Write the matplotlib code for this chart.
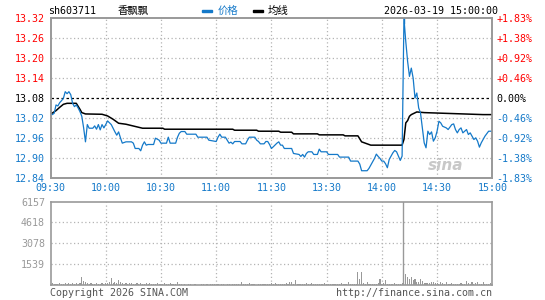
import matplotlib
matplotlib.use("Agg")
import matplotlib.pyplot as plt
from matplotlib.patches import Rectangle

# minute index from 09:30 (0) to 15:00 (240), lunch break skipped
price_min = [0, 1, 2, 3, 4, 5, 6, 7, 8, 9, 10, 11, 12, 13, 14, 15, 16, 17, 18, 19,
             20, 21, 23, 24, 25, 26, 27, 28, 29, 30, 31, 33, 34, 35, 36, 37, 38, 39, 41, 44,
             45, 46, 48, 49, 50, 51, 52, 53, 56, 57, 59, 60, 63, 64, 65, 68, 69, 70, 71, 73,
             74, 79, 80, 85, 86, 90, 91, 92, 93, 95, 96, 97, 98, 99, 100, 103, 104, 106, 107, 108,
             111, 112, 113, 114, 116, 117, 118, 119, 120, 121, 123, 124, 125, 126, 127, 131, 132, 135, 136, 137,
             138, 139, 140, 142, 143, 145, 146, 147, 150, 151, 156, 157, 162, 163, 167, 168, 169, 172, 173, 175,
             176, 177, 178, 179, 180, 181, 182, 183, 184, 185, 186, 187, 188, 189, 190, 191, 192, 193, 194, 195,
             196, 197, 198, 199, 200, 201, 202, 203, 204, 205, 206, 207, 208, 209, 210, 211, 212, 213, 215, 216,
             218, 219, 220, 221, 222, 223, 224, 226, 227, 228, 229, 230, 231, 232, 233, 234, 236, 238, 240]
price = [13.031, 13.030, 13.034, 13.059, 13.056, 13.066, 13.072, 13.079, 13.099, 13.093,
         13.099, 13.090, 13.064, 13.054, 13.059, 13.050, 13.039, 13.025, 12.990, 12.948,
         13.000, 12.989, 12.989, 12.996, 12.986, 13.000, 12.984, 13.000, 12.990, 13.000,
         13.011, 13.000, 12.989, 12.978, 12.968, 12.978, 12.960, 12.944, 12.948, 12.948,
         12.944, 12.928, 12.928, 12.921, 12.938, 12.948, 12.938, 12.940, 12.940, 12.959,
         12.953, 12.944, 12.944, 12.962, 12.944, 12.944, 12.962, 12.974, 12.979, 12.979,
         12.971, 12.971, 12.962, 12.962, 12.953, 12.949, 12.962, 12.971, 12.962, 12.962,
         12.953, 12.944, 12.947, 12.942, 12.949, 12.949, 12.942, 12.942, 12.953, 12.962,
         12.962, 12.953, 12.949, 12.942, 12.942, 12.949, 12.949, 12.940, 12.928, 12.933,
         12.944, 12.948, 12.938, 12.938, 12.928, 12.928, 12.913, 12.910, 12.904, 12.910,
         12.902, 12.913, 12.918, 12.918, 12.910, 12.910, 12.926, 12.918, 12.918, 12.910,
         12.910, 12.902, 12.902, 12.890, 12.890, 12.881, 12.861, 12.861, 12.868, 12.888,
         12.898, 12.911, 12.904, 12.898, 12.890, 12.890, 12.882, 12.870, 12.895, 12.905,
         12.915, 12.922, 12.918, 12.905, 12.892, 12.905, 13.320, 13.250, 13.190, 13.145,
         13.170, 13.140, 13.080, 13.095, 13.050, 13.035, 12.990, 12.945, 12.930, 12.980,
         12.970, 12.978, 12.950, 12.960, 12.980, 13.010, 13.005, 12.995, 12.990, 12.985,
         13.000, 13.002, 12.985, 12.975, 12.985, 12.990, 12.975, 12.985, 12.970, 12.975,
         12.965, 12.955, 12.960, 12.950, 12.932, 12.945, 12.965, 12.980, 12.980]

avg_min = [0, 3, 5, 7, 9, 14, 16, 17, 19, 28, 31, 34, 37, 41, 50, 57, 61, 62, 99, 100,
           112, 113, 124, 125, 131, 132, 145, 146, 159, 160, 167, 169, 172, 174, 191, 192, 193, 194, 195, 196,
           199, 203, 219, 235, 240]
avg = [13.031, 13.042, 13.052, 13.061, 13.064, 13.064, 13.046, 13.036, 13.032, 13.031,
       13.026, 13.016, 13.004, 13.001, 12.989, 12.989, 12.989, 12.986, 12.986, 12.983,
       12.983, 12.980, 12.980, 12.977, 12.977, 12.972, 12.972, 12.969, 12.969, 12.966,
       12.966, 12.948, 12.942, 12.938, 12.938, 12.955, 13.005, 13.012, 13.025, 13.030,
       13.038, 13.036, 13.033, 13.030, 13.030]

volume = [300, 120, 90, 110, 80, 130, 100, 90, 150, 110, 120, 90, 180, 100, 140, 80, 120, 560, 300, 200,
          150, 110, 130, 90, 100, 120, 80, 110, 130, 100,
          140, 130, 250, 540, 180, 240, 120, 390, 200, 130, 110, 160, 100, 120, 140, 90, 100, 130, 80, 160,
          110, 90, 120, 100, 140, 80, 110, 90, 120, 100,
          110, 90, 130, 80, 100, 120, 90, 80, 110, 200, 100, 60, 0, 80, 0, 90, 60, 0, 70, 90,
          0, 0, 80, 60, 0, 100, 0, 70, 90, 60,
          80, 60, 0, 90, 70, 0, 60, 80, 0, 70, 90, 60, 80, 0, 200, 70, 90, 60, 180, 80,
          60, 90, 0, 70, 100, 80, 60, 90, 110, 80,
          120, 90, 170, 100, 80, 110, 90, 80, 120, 100, 240, 230, 90, 370, 100, 80, 110, 90, 100, 120,
          90, 80, 120, 100, 90, 110, 80, 100, 90, 120,
          100, 80, 90, 110, 90, 80, 100, 90, 120, 80, 90, 100, 240, 110, 90, 100, 80, 980, 460, 980,
          150, 110, 220, 100, 80, 90, 110, 100, 120, 415,
          110, 130, 370, 110, 90, 100, 80, 120, 90, 100, 110, 140, 2680, 800, 560, 440, 585, 366, 440, 220,
          220, 440, 290, 120, 170, 120, 170, 220, 244, 170,
          120, 100, 220, 170, 90, 220, 100, 80, 120, 90, 110, 100, 80, 120, 90, 110, 320, 170, 100, 240,
          90, 170, 220, 110, 100, 220, 90, 80, 100, 120, 60]

pre_close = 13.08
price_ticks = [12.84, 12.90, 12.96, 13.02, 13.08, 13.14, 13.20, 13.26, 13.32]
pct_labels = ["-1.83%", "-1.38%", "-0.92%", "-0.46%", "0.00%", "+0.46%", "+0.92%", "+1.38%", "+1.83%"]
time_pos = [0, 30, 60, 90, 120, 150, 180, 210, 240]
time_labels = ["09:30", "10:00", "10:30", "11:00", "11:30", "13:30", "14:00", "14:30", "15:00"]
vol_ticks = [1539, 3078, 4618, 6157]
cursor_min = 192

W, H = 545, 300
BLUE = "#1479c9"
RED = "#ff0000"
GRID = "#b4b4b4"
BORDER = "#999999"
MONO = "DejaVu Sans Mono"
CJK = ["Noto Sans CJK SC", "DejaVu Sans"]


def fx(x):
    return x / W


def fy(y):
    return 1 - y / H


fig = plt.figure(figsize=(W / 100, H / 100), dpi=100)

ax = fig.add_axes([fx(50.5), fy(177.7), (492.3 - 50.5) / W, (177.7 - 18.3) / H])
axv = fig.add_axes([fx(50.5), fy(285), (492.3 - 50.5) / W, (285 - 201.5) / H])

# price panel
ax.set_xlim(0, 240)
ax.set_ylim(12.84, 13.32)
for t in time_pos[1:-1]:
    ax.axvline(t, color=GRID, lw=0.9, ls=(0, (1, 2)))
for p in price_ticks[1:-1]:
    if p == pre_close:
        ax.axhline(p, color="black", lw=0.9, ls=(0, (2, 2)))
    else:
        ax.axhline(p, color=GRID, lw=0.9, ls=(0, (1, 2)))
ax.plot(avg_min, avg, color="black", lw=1.1, zorder=3)
ax.plot(price_min, price, color=BLUE, lw=0.9, zorder=4, clip_on=True)
ax.plot([cursor_min, cursor_min], [13.32, 13.305], color=BLUE, lw=1, clip_on=False, zorder=5)

ax.set_yticks(price_ticks)
ax.set_yticklabels([f"{p:.2f}" for p in price_ticks], family=MONO, fontsize=7.2)
for lab, p in zip(ax.get_yticklabels(), price_ticks):
    lab.set_color(RED if p > pre_close else ("black" if p == pre_close else BLUE))
ax.set_xticks(time_pos)
ax.set_xticklabels(time_labels, family=MONO, fontsize=7.2, color=BLUE)
ax.tick_params(length=0, pad=4)

ax2 = ax.twinx()
ax2.set_ylim(12.84, 13.32)
ax2.set_yticks(price_ticks)
ax2.set_yticklabels(pct_labels, family=MONO, fontsize=7.2)
for lab, p in zip(ax2.get_yticklabels(), price_ticks):
    lab.set_color(RED if p > pre_close else ("black" if p == pre_close else BLUE))
ax2.tick_params(length=0, pad=3)

for a in (ax, ax2, axv):
    for s in a.spines.values():
        s.set_color(BORDER)
        s.set_linewidth(1.2)

# volume panel
axv.set_xlim(0, 240)
axv.set_ylim(0, 6157)
for t in time_pos[1:-1]:
    axv.axvline(t, color=GRID, lw=0.9, ls=(0, (1, 2)))
for v in vol_ticks[:-1]:
    axv.axhline(v, color=GRID, lw=0.9, ls=(0, (1, 2)))
axv.bar(range(len(volume)), volume, width=0.6, color="#999999", linewidth=0)
axv.axvline(cursor_min - 0.6, color="#999999", lw=1)
axv.set_yticks(vol_ticks)
axv.set_yticklabels([str(v) for v in vol_ticks], family=MONO, fontsize=7.2, color="#999999")
axv.set_xticks([])
axv.tick_params(length=0, pad=4)

# header
fig.text(fx(48), fy(11), "sh603711", family=MONO, fontsize=7.2, va="center")
fig.text(fx(118), fy(11), "香飘飘", family=CJK, fontsize=7.5, va="center")
fig.add_artist(Rectangle((fx(202), fy(12)), 10 / W, 2.2 / H, color=BLUE, transform=fig.transFigure))
fig.text(fx(218), fy(11), "价格", family=CJK, fontsize=7.5, va="center", color=BLUE)
fig.add_artist(Rectangle((fx(253), fy(12)), 10 / W, 2.2 / H, color="black", transform=fig.transFigure))
fig.text(fx(268), fy(11), "均线", family=CJK, fontsize=7.5, va="center")
fig.text(fx(498), fy(11), "2026-03-19 15:00:00", family=MONO, fontsize=7.2, va="center", ha="right")

# footer
fig.text(fx(50), fy(293), "Copyright 2026 SINA.COM", family=MONO, fontsize=7.2, va="center", color="#555555")
fig.text(fx(492), fy(293), "http://finance.sina.com.cn", family=MONO, fontsize=7.2, va="center",
         ha="right", color="#555555")

# watermark
fig.text(fx(446), fy(165), "sina", fontsize=11, style="italic", weight="bold", color="#c8c8c8",
         va="center", ha="center")

fig.savefig("out.png", dpi=100)
